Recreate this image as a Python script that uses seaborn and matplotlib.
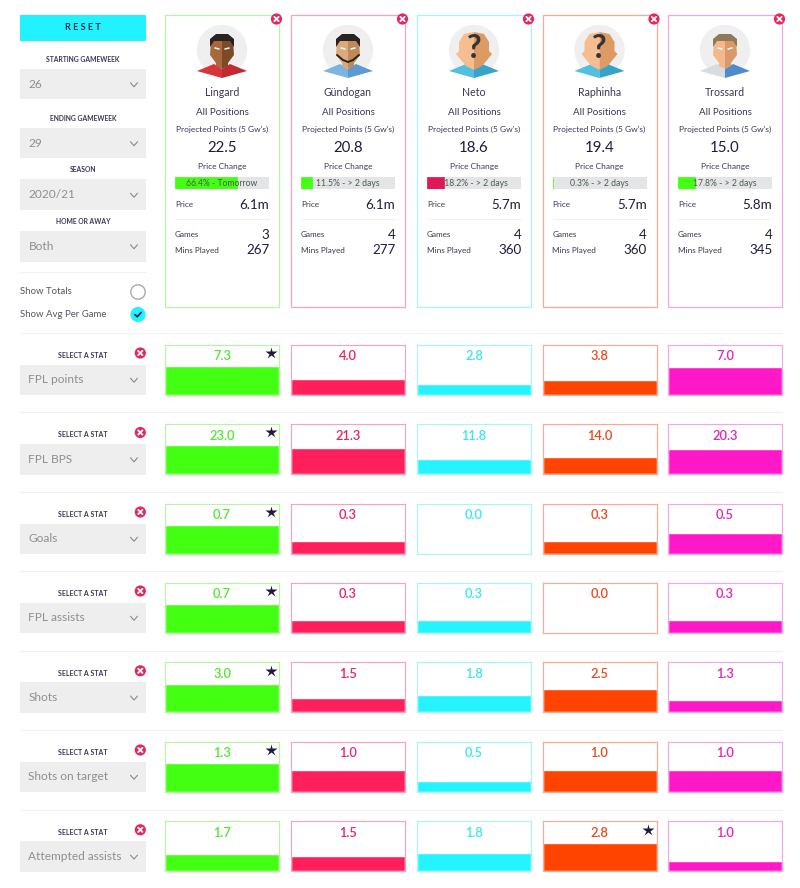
import matplotlib
matplotlib.use("Agg")
import matplotlib.pyplot as plt
from matplotlib.patches import Rectangle, Circle, Polygon
import seaborn as sns

sns.set_theme(style="white")
plt.rcParams['font.family'] = ['Lato', 'DejaVu Sans']

players = ["Lingard", "Gündogan", "Neto", "Raphinha", "Trossard"]
projected = [22.5, 20.8, 18.6, 19.4, 15.0]
price_change = [66.4, 11.5, -18.2, 0.3, 17.8]
price_when = ["Tomorrow", "> 2 days", "> 2 days", "> 2 days", "> 2 days"]
price = ["6.1m", "6.1m", "5.7m", "5.7m", "5.8m"]
games = [3, 4, 4, 4, 4]
mins_played = [267, 277, 360, 360, 345]

stats = ["FPL points", "FPL BPS", "Goals", "FPL assists", "Shots", "Shots on target", "Attempted assists"]
fpl_points = [7.3, 4.0, 2.8, 3.8, 7.0]
fpl_bps = [23.0, 21.3, 11.8, 14.0, 20.3]
goals = [0.7, 0.3, 0.0, 0.3, 0.5]
fpl_assists = [0.7, 0.3, 0.3, 0.0, 0.3]
shots = [3.0, 1.5, 1.8, 2.5, 1.3]
shots_on_target = [1.3, 1.0, 0.5, 1.0, 1.0]
attempted_assists = [1.7, 1.5, 1.8, 2.8, 1.0]
stat_values = [fpl_points, fpl_bps, goals, fpl_assists, shots, shots_on_target, attempted_assists]

filter_labels = ["STARTING GAMEWEEK", "ENDING GAMEWEEK", "SEASON", "HOME OR AWAY"]
filter_values = ["26", "29", "2020/21", "Both"]

fill_colors = ["#43ff11", "#ff1f5a", "#25f4ff", "#ff4400", "#ff18c8"]
frame_colors = ["#b4f5a6", "#f7a3bb", "#a8f4f6", "#f7ab92", "#f2a6e6"]
text_colors = ["#4fe82c", "#e6265e", "#38e6f2", "#e64a1e", "#e322c0"]
DARK = "#1f1b3d"
MID = "#3a3755"
W, H = 800, 888
card_x = [165, 291, 417, 542.5, 668]
card_w = 114
row_top = [344.5, 424, 503.5, 582.5, 662.3, 741.5, 821.3]
row_h = 50
sep_y = [333.5, 412.3, 492, 571, 650.7, 730, 810]
filter_label_y = [60, 118.5, 170, 221.5]
filter_box_y = [69, 128, 179.5, 231]

fig = plt.figure(figsize=(W / 100, H / 100), dpi=100, facecolor="white")


def px_axes(x, y, w, h, **kw):
    return fig.add_axes([x / W, 1 - (y + h) / H, w / W, h / H], **kw)


# bars for the stat rows
for r, vals in enumerate(stat_values):
    top = max(vals) * row_h / 28.5
    for i, v in enumerate(vals):
        ax = px_axes(card_x[i], row_top[r], card_w, row_h, zorder=2)
        sns.barplot(x=[players[i]], y=[v], color=fill_colors[i], width=1, saturation=1, ax=ax)
        ax.set_xlim(-0.5, 0.5)
        ax.set_ylim(0, top)
        ax.set_xticks([]); ax.set_yticks([]); ax.set_xlabel(""); ax.set_ylabel("")
        for s in ax.spines.values():
            s.set_visible(True); s.set_color(frame_colors[i]); s.set_linewidth(0.85)

# price change bars
for i, v in enumerate(price_change):
    ax = px_axes(card_x[i] + 10, 177, 94, 12.5, zorder=2, facecolor="#e4e5e6")
    c = "#43ff11" if v >= 0 else "#e0185a"
    sns.barplot(x=[abs(v)], y=[players[i]], orient="h", color=c, width=1, saturation=1,
                edgecolor=c, linewidth=0.5, ax=ax)
    ax.set_xlim(0, 100)
    ax.set_ylim(0.5, -0.5)
    ax.set_xticks([]); ax.set_yticks([]); ax.set_xlabel(""); ax.set_ylabel("")
    for s in ax.spines.values():
        s.set_visible(False)

# page furniture in pixel coordinates
ov = fig.add_axes([0, 0, 1, 1], zorder=5)
ov.set_xlim(0, W); ov.set_ylim(H, 0); ov.axis("off"); ov.patch.set_alpha(0)


def T(x, y, s, size, color=DARK, ha="center", weight="normal", **kw):
    ov.text(x, y, s, fontsize=size, color=color, ha=ha, va="center", fontweight=weight, **kw)


def close_icon(x, y, r=5.6):
    ov.add_patch(Circle((x, y), r, fc="#e8265e", ec="none", zorder=6))
    d = r * 0.38
    ov.plot([x - d, x + d], [y - d, y + d], color="white", lw=1.3, zorder=7, solid_capstyle="round")
    ov.plot([x - d, x + d], [y + d, y - d], color="white", lw=1.3, zorder=7, solid_capstyle="round")


def select_box(y, h, label):
    ov.add_patch(Rectangle((20, y), 126, h, fc="#eeeeee", ec="none"))
    T(28.5, y + h / 2, label, 8.6, color="#8f8f8f", ha="left")
    cy = y + h / 2 + 0.5
    ov.plot([130.5, 134, 137.5], [cy - 2, cy + 2, cy - 2], color="#8a8a8a", lw=0.8)


# left column
ov.add_patch(Rectangle((20, 15), 126, 26.5, fc="#22f1ff", ec="none"))
T(83, 28, "R E S E T", 6.6, color="#16324f", weight="bold")
for lab, val, ly, by in zip(filter_labels, filter_values, filter_label_y, filter_box_y):
    T(83, ly, lab, 4.9, color=MID, weight="bold")
    select_box(by, 30.5, val)
for y in sep_y:
    ov.plot([20, 782], [y, y], color="#f1f1f1", lw=0.8)
ov.plot([20, 146], [272, 272], color="#f1f1f1", lw=0.8)
T(20.5, 291, "Show Totals", 6.9, color="#555566", ha="left")
T(20.5, 314.5, "Show Avg Per Game", 6.9, color="#555566", ha="left")
ov.add_patch(Circle((138, 292), 7.2, fc="white", ec="#aaaaaa", lw=1))
ov.add_patch(Circle((138, 314.5), 7.6, fc="#22f1ff", ec="none"))
ov.plot([135, 137.2, 141.2], [314.6, 316.8, 312.4], color=DARK, lw=1.2)

# portrait styles: skin light, skin dark, hair, shirt left, shirt right, beard
looks = [
    ("#a8683c", "#7d4a28", "#2b2320", "#d8343c", "#c22a32", False),
    ("#dcaa7c", "#c08a58", "#2b2320", "#7db4e0", "#5c9ad0", True),
    ("#f6bd90", "#dd9a62", None, "#52bfe0", "#36a4c8", False),
    ("#f6bd90", "#dd9a62", None, "#52bfe0", "#36a4c8", False),
    ("#f3b88c", "#d9996a", "#8e7a58", "#d5dde0", "#4f8acb", False),
]


def portrait(cx, look):
    light, dark, hair, sl, sr, beard = look
    cy = 50
    ov.add_patch(Circle((cx, cy), 25.2, fc="#efefef", ec="none"))
    ov.add_patch(Polygon([(cx - 25, cy + 21), (cx - 8, cy + 14), (cx, cy + 19), (cx, cy + 28)], fc=sl, ec="none"))
    ov.add_patch(Polygon([(cx + 25, cy + 21), (cx + 8, cy + 14), (cx, cy + 19), (cx, cy + 28)], fc=sr, ec="none"))
    if hair is None:
        ov.add_patch(Polygon([(cx, cy - 18), (cx - 10, cy - 16), (cx - 15, cy - 8), (cx - 15, cy + 1), (cx - 18, cy + 4),
                              (cx - 14, cy + 9), (cx - 8, cy + 16), (cx, cy + 20)], fc=light, ec="none"))
        ov.add_patch(Polygon([(cx, cy - 18), (cx + 10, cy - 16), (cx + 15, cy - 8), (cx + 15, cy + 1), (cx + 18, cy + 4),
                              (cx + 14, cy + 9), (cx + 8, cy + 16), (cx, cy + 20)], fc=dark, ec="none"))
        T(cx, cy - 1, "?", 23, color="#333338", weight="bold")
    else:
        ov.add_patch(Polygon([(cx, cy - 12), (cx - 11, cy - 10), (cx - 12, cy + 5), (cx - 6, cy + 13), (cx - 6, cy + 16), (cx, cy + 19)], fc=light, ec="none"))
        ov.add_patch(Polygon([(cx, cy - 12), (cx + 11, cy - 10), (cx + 12, cy + 5), (cx + 6, cy + 13), (cx + 6, cy + 16), (cx, cy + 19)], fc=dark, ec="none"))
        ov.add_patch(Polygon([(cx - 12, cy - 3), (cx - 12, cy - 11), (cx - 6, cy - 16), (cx + 6, cy - 16), (cx + 12, cy - 11),
                              (cx + 12, cy - 3), (cx + 8, cy - 9), (cx - 8, cy - 9)], fc=hair, ec="none"))
        ov.plot([cx - 7, cx - 3], [cy - 2, cy - 1], color="white", lw=1.1)
        ov.plot([cx + 7, cx + 3], [cy - 2, cy - 1], color="white", lw=1.1)
        if beard:
            ov.plot([cx - 11, cx - 5, cx, cx + 5, cx + 11], [cy + 5, cy + 10, cy + 12, cy + 10, cy + 5], color=hair, lw=1.4)


# player cards
for i, name in enumerate(players):
    x = card_x[i]
    cx = x + card_w / 2
    ov.add_patch(Rectangle((x, 15), card_w, 292.5, fc="none", ec=frame_colors[i], lw=0.9))
    portrait(cx, looks[i])
    T(cx, 92.5, name, 7.6, color=MID)
    T(cx, 112.5, "All Positions", 7.0, color=MID)
    T(cx, 129, "Projected Points (5 Gw's)", 6.0, color=MID)
    T(cx, 147.5, f"{projected[i]:.1f}", 10.8)
    T(cx, 166.5, "Price Change", 6.0, color=MID)
    T(cx, 184, f"{price_change[i]:.1f}% - {price_when[i]}", 6.2, color="#4a5a50")
    T(x + 10, 204, "Price", 5.9, color=MID, ha="left")
    T(x + 104.5, 204.5, price[i], 9.6, ha="right")
    ov.plot([x + 10, x + 104], [219, 219], color="#f1f1f1", lw=0.8)
    T(x + 10, 234.5, "Games", 5.9, color=MID, ha="left")
    T(x + 104.5, 234.5, str(games[i]), 9.6, ha="right")
    T(x + 10, 250, "Mins Played", 5.9, color=MID, ha="left")
    T(x + 104.5, 250, str(mins_played[i]), 9.6, ha="right")
    close_icon(x + card_w - 2.5, 19)

# stat rows
for r, (stat, vals) in enumerate(zip(stats, stat_values)):
    y = row_top[r]
    T(83, y + 10.8, "SELECT A STAT", 5.0, color=MID, weight="bold")
    close_icon(140.3, y + 8.5)
    select_box(y + 20, 30.5, stat)
    best = vals.index(max(vals))
    for i, v in enumerate(vals):
        T(card_x[i] + card_w / 2, y + 11.5, f"{v:.1f}", 9.3, color=text_colors[i], weight="semibold")
    ov.plot([card_x[best] + card_w - 8.5], [y + 8.3], marker="*", ms=9, color=DARK, mec="none", zorder=7)

fig.savefig("out.png", dpi=100, facecolor="white")
